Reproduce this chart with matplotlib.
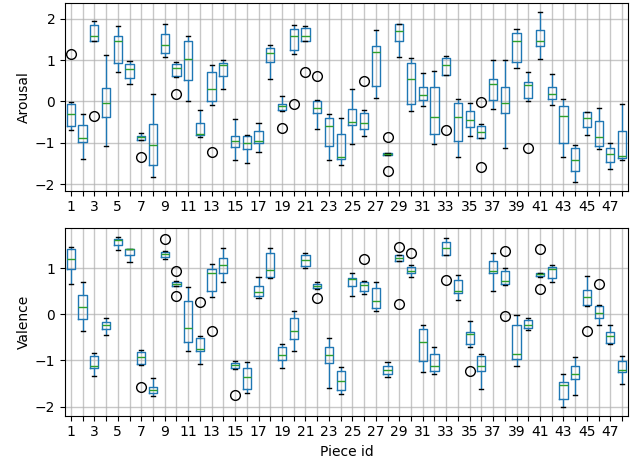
import matplotlib
matplotlib.use("Agg")
import matplotlib.pyplot as plt

# ------------------------------------------------------
# Dados (estatísticas por peça)
# ------------------------------------------------------
pieces = list(range(1, 49))

# Arousal
ar_whislo = [-0.69, -1.40, 1.45, -1.07, 0.72, 0.43, -0.93, -1.83, 1.07, 0.59,
             0.02, -0.86, -0.09, 0.29, -1.41, -1.49, -1.21, 0.55, -0.24, 1.15,
             1.45, -0.66, -1.42, -1.53, -1.03, -0.84, 0.09, -1.30, 1.07, -0.22,
             -0.10, -1.03, 0.63, -1.33, -0.84, -0.88, -0.17, -1.13, 0.80, 0.02,
             1.03, -0.09, -1.33, -1.94, -0.80, -1.14, -1.64, -1.41]
ar_q1 = [-0.59, -0.98, 1.46, -0.37, 0.92, 0.56, -0.92, -1.53, 1.17, 0.62,
         0.52, -0.81, 0.00, 0.61, -1.09, -1.15, -1.01, 0.96, -0.21, 1.24,
         1.45, -0.27, -1.07, -1.39, -0.57, -0.67, 0.38, -1.30, 1.47, -0.06,
         0.03, -0.78, 0.65, -0.96, -0.61, -0.88, 0.03, -0.28, 0.96, 0.08,
         1.33, 0.06, -1.01, -1.69, -0.61, -1.07, -1.45, -1.36]
ar_med = [-0.30, -0.88, 1.57, -0.03, 1.45, 0.78, -0.87, -1.05, 1.37, 0.80,
          1.03, -0.79, 0.31, 0.88, -0.96, -1.00, -0.96, 1.17, -0.10, 1.57,
          1.57, -0.16, -0.60, -1.33, -0.49, -0.51, 1.19, -1.27, 1.70, 0.54,
          0.15, -0.37, 0.89, -0.38, -0.45, -0.74, 0.41, -0.03, 1.46, 0.39,
          1.45, 0.18, -0.34, -1.41, -0.39, -0.86, -1.27, -1.32]
ar_q3 = [-0.06, -0.56, 1.85, 0.33, 1.58, 0.90, -0.83, -0.55, 1.62, 0.90,
         1.45, -0.52, 0.71, 0.94, -0.83, -0.84, -0.72, 1.28, -0.06, 1.75,
         1.78, 0.00, -0.39, -0.78, -0.18, -0.27, 1.34, -1.25, 1.86, 0.92,
         0.34, 0.34, 1.06, -0.04, -0.24, -0.59, 0.55, 0.34, 1.66, 0.46,
         1.73, 0.35, -0.10, -1.13, -0.25, -0.48, -1.13, -0.72]
ar_whishi = [-0.02, -0.31, 1.95, 1.11, 1.83, 0.98, -0.75, 0.17, 1.87, 0.96,
             1.57, -0.21, 0.88, 0.99, -0.42, -0.80, -0.53, 1.36, 0.12, 1.85,
             1.83, 0.03, -0.31, -0.39, 0.31, -0.21, 1.73, -1.24, 1.88, 1.04,
             0.69, 0.73, 1.09, 0.05, -0.03, -0.55, 0.99, 0.99, 1.75, 0.72,
             2.16, 0.66, 0.07, -1.06, -0.25, -0.15, -1.01, -0.06]
ar_fliers = {1: [1.15], 3: [-0.35], 7: [-1.35], 10: [0.17], 13: [-1.23],
             19: [-0.64], 20: [-0.06], 21: [0.71], 22: [0.61], 26: [0.49],
             28: [-0.86, -1.69], 33: [-0.69], 36: [-0.02, -1.58], 40: [-1.12]}

# Valence
va_whislo = [0.67, -0.35, -1.33, -0.45, 1.40, 1.14, -1.10, -1.78, 1.20, 0.61,
             -0.80, -1.07, 0.38, 0.70, -1.18, -1.70, 0.36, 0.80, -1.17, -0.79,
             1.00, 0.55, -1.59, -1.73, 0.41, 0.45, 0.07, -1.36, 1.15, 0.82,
             -1.25, -1.30, 1.28, 0.31, -0.71, -1.61, 0.50, 0.64, -1.13, -0.33,
             0.82, 0.70, -2.01, -1.75, 0.18, -0.22, -0.64, -1.51]
va_q1 = [0.99, -0.09, -1.17, -0.32, 1.50, 1.28, -1.08, -1.71, 1.25, 0.62,
         -0.59, -0.80, 0.51, 0.91, -1.16, -1.61, 0.40, 0.81, -1.00, -0.53,
         1.05, 0.57, -1.06, -1.64, 0.62, 0.51, 0.14, -1.30, 1.17, 0.91,
         -1.01, -1.22, 1.30, 0.47, -0.64, -1.23, 0.90, 0.65, -0.96, -0.30,
         0.83, 0.79, -1.83, -1.40, 0.20, -0.08, -0.62, -1.25]
va_med = [1.20, 0.16, -1.12, -0.24, 1.62, 1.41, -0.92, -1.65, 1.32, 0.67,
          -0.30, -0.75, 0.91, 1.07, -1.10, -1.36, 0.49, 0.97, -0.88, -0.37,
          1.19, 0.62, -0.88, -1.44, 0.77, 0.64, 0.30, -1.20, 1.23, 0.95,
          -0.59, -1.12, 1.45, 0.51, -0.42, -1.12, 0.94, 0.72, -0.87, -0.24,
          0.88, 0.98, -1.53, -1.30, 0.38, 0.04, -0.46, -1.21]
va_q3 = [1.43, 0.43, -0.91, -0.16, 1.64, 1.42, -0.82, -1.57, 1.36, 0.70,
         0.30, -0.52, 0.99, 1.23, -1.05, -1.16, 0.62, 1.33, -0.70, -0.08,
         1.30, 0.67, -0.70, -1.22, 0.80, 0.71, 0.58, -1.12, 1.28, 1.04,
         -0.31, -0.86, 1.57, 0.75, -0.38, -0.91, 1.17, 0.94, -0.22, -0.12,
         0.91, 1.03, -1.46, -1.11, 0.53, 0.18, -0.39, -1.01]
va_whishi = [1.47, 0.70, -0.83, -0.07, 1.69, 1.43, -0.77, -1.39, 1.38, 0.72,
             0.59, -0.46, 1.10, 1.45, -1.02, -1.03, 0.82, 1.45, -0.65, 0.07,
             1.33, 0.71, -0.51, -1.15, 0.91, 0.72, 0.70, -1.04, 1.29, 1.08,
             -0.22, -0.70, 1.65, 0.86, -0.14, -0.85, 1.33, 1.00, -0.01, -0.07,
             0.91, 1.07, -1.30, -0.93, 0.84, 0.21, -0.23, -0.90]
va_fliers = {7: [-1.57], 9: [1.63], 10: [0.94, 0.40], 12: [0.27], 13: [-0.36],
             15: [-1.74], 22: [0.36], 26: [1.20], 29: [1.47, 0.23], 30: [1.33],
             33: [0.75], 35: [-1.23], 38: [1.38, -0.04], 41: [1.41, 0.55],
             45: [-0.35], 46: [0.67]}


def montar_stats(whislo, q1, med, q3, whishi, fliers):
    stats = []
    for i, p in enumerate(pieces):
        stats.append({"whislo": whislo[i], "q1": q1[i], "med": med[i],
                      "q3": q3[i], "whishi": whishi[i],
                      "fliers": fliers.get(p, []), "label": str(p)})
    return stats


# ------------------------------------------------------
# Figura
# ------------------------------------------------------
fig = plt.figure(figsize=(6.33, 4.59), dpi=100)
ax1 = fig.add_axes([0.1027, 0.5845, 0.8893, 0.4083])
ax2 = fig.add_axes([0.1027, 0.0943, 0.8893, 0.4083])

estilo = dict(
    widths=0.7,
    boxprops=dict(color="#1f77b4", linewidth=1.0),
    whiskerprops=dict(color="#1f77b4", linewidth=1.0),
    medianprops=dict(color="#2ca02c", linewidth=1.0),
    capprops=dict(color="black", linewidth=1.0),
    flierprops=dict(marker="o", markerfacecolor="none",
                    markeredgecolor="black", markersize=7),
)

for ax, dados, ylabel in [
    (ax1, montar_stats(ar_whislo, ar_q1, ar_med, ar_q3, ar_whishi, ar_fliers), "Arousal"),
    (ax2, montar_stats(va_whislo, va_q1, va_med, va_q3, va_whishi, va_fliers), "Valence"),
]:
    ax.bxp(dados, positions=pieces, **estilo)
    ax.set_axisbelow(True)
    ax.grid(True, color="#b0b0b0", linewidth=1.0, alpha=0.7)
    ax.set_xlim(0.5, 48.5)
    ax.set_xticks(pieces)
    ax.set_xticklabels([str(p) if p % 2 == 1 else "" for p in pieces], fontsize=10)
    ax.set_ylabel(ylabel, fontsize=10, labelpad=3)

ax1.set_ylim(-2.155, 2.37)
ax1.set_yticks([-2, -1, 0, 1, 2])
ax2.set_ylim(-2.2, 1.87)
ax2.set_yticks([-2, -1, 0, 1])
ax2.set_xlabel("Piece id", fontsize=10)

fig.savefig("out.png", dpi=100)
